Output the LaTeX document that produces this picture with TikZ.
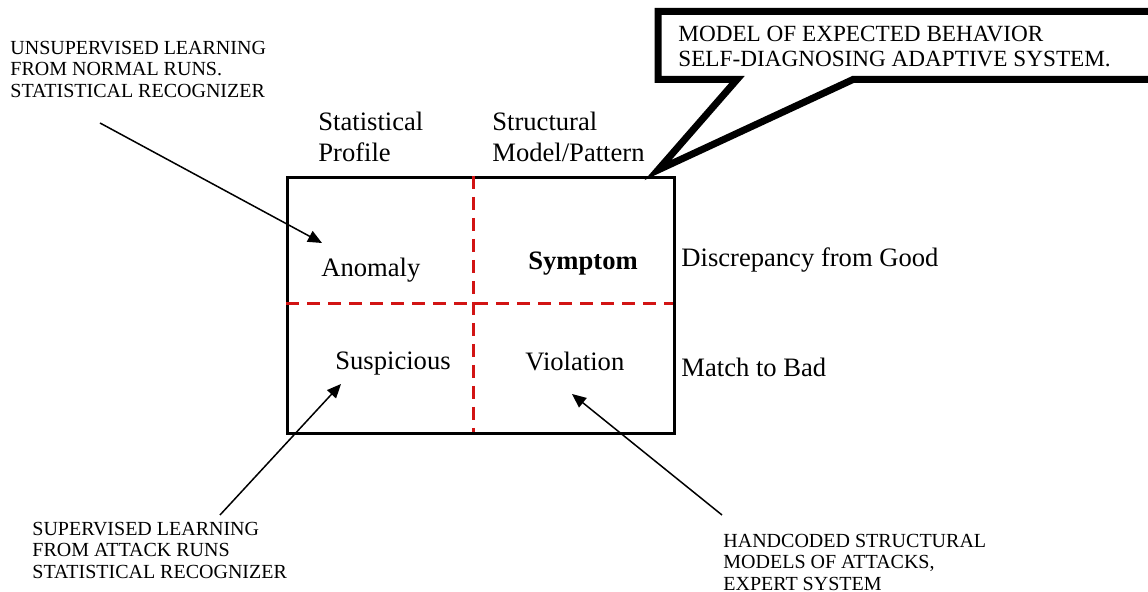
\documentclass[tikz,border=0pt]{standalone}
\usepackage{fontspec}
\setmainfont{Liberation Serif}
\usetikzlibrary{arrows.meta}
\definecolor{dashred}{RGB}{210,20,20}
\tikzset{
  body/.style={inner sep=0pt, font=\fontsize{13.3}{15.5}\selectfont, align=left},
  caps/.style={inner sep=0pt, font=\fontsize{10}{10.8}\selectfont, align=left},
  calltext/.style={inner sep=0pt, font=\fontsize{11.6}{12.5}\selectfont, align=left},
  divider/.style={draw=dashred, line width=1.5pt, dash pattern=on 6.5pt off 4pt},
  pointer/.style={draw=black, line width=0.75pt, -{Triangle[length=7pt,width=6pt]}},
  callout/.style={draw=black, fill=white, line width=3.5pt, line join=miter}
}
\begin{document}
\begin{tikzpicture}[x=0.5pt, y=-0.5pt]
\useasboundingbox (0,0) rectangle (1148,592);

% callout
\draw[callout] (658,11.5) -- (1170,11.5) -- (1170,79.5) -- (853,79.5) -- (658,170) -- (737,79.5) -- (658,79.5) -- cycle;
\node[calltext, anchor=north west] (call) at (678,25.5) {MODEL OF EXPECTED BEHAVIOR\\SELF-DIAGNOSING ADAPTIVE SYSTEM.};

% main box
\node[draw=black, line width=1.5pt, minimum width=387*0.5pt, minimum height=256*0.5pt, inner sep=0pt, anchor=north west] (box) at (286,176) {};
\coordinate (vt) at (473,176);
\coordinate (vb) at (473,432);
\coordinate (hl) at (286,304);
\coordinate (hr) at (673,304);
\draw[divider] (vt) -- (vb);
\draw[divider] (hl) -- (hr);

% column headings
\node[body, anchor=north west] (stat) at (318,112) {Statistical\\Profile};
\node[body, anchor=north west] (struct) at (492,112) {Structural\\Model/Pattern};

% cells
\node[body, anchor=base west] (anom) at (321,277) {Anomaly};
\node[body, anchor=base west, font=\fontsize{13.3}{15.5}\selectfont\bfseries] (symp) at (528,270) {Symptom};
\node[body, anchor=base west] (susp) at (335,370) {Suspicious};
\node[body, anchor=base west] (viol) at (525,371) {Violation};

% row labels
\node[body, anchor=base west] (disc) at (681,267) {Discrepancy from Good};
\node[body, anchor=base west] (match) at (681,377) {Match to Bad};

% annotations
\node[caps, anchor=north west] (unsup) at (10,40.7) {UNSUPERVISED LEARNING\\FROM NORMAL RUNS.\\STATISTICAL RECOGNIZER};
\node[caps, anchor=north west] (sup) at (32,521.7) {SUPERVISED LEARNING\\FROM ATTACK RUNS\\STATISTICAL RECOGNIZER};
\node[caps, anchor=north west] (hand) at (723,533.7) {HANDCODED STRUCTURAL\\MODELS OF ATTACKS,\\EXPERT SYSTEM};

% arrows
\coordinate (a1s) at (100,123);
\coordinate (a1e) at (322,243);
\coordinate (a2s) at (220,515);
\coordinate (a2e) at (341,384);
\coordinate (a3s) at (722,515);
\coordinate (a3e) at (572,394);
\draw[pointer] (a1s) -- (a1e);
\draw[pointer] (a2s) -- (a2e);
\draw[pointer] (a3s) -- (a3e);
\end{tikzpicture}
\end{document}
